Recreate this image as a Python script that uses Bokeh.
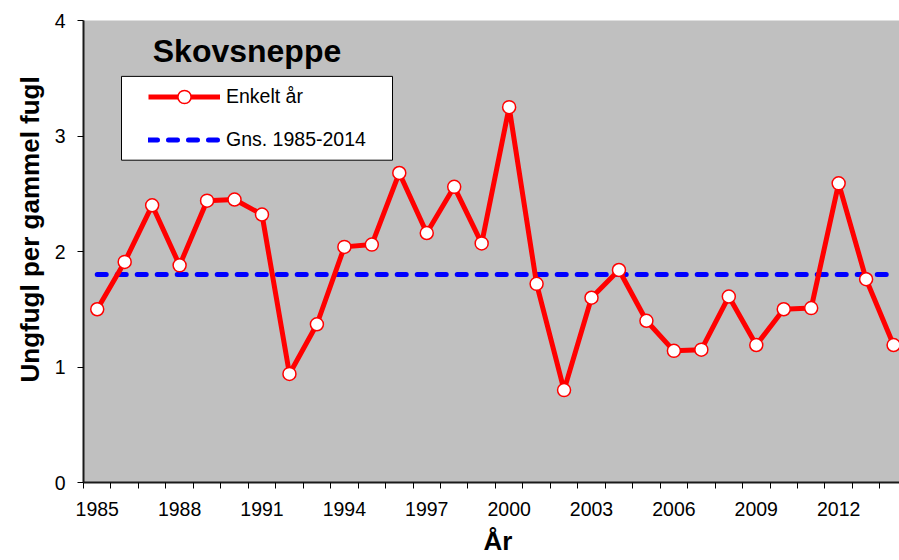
from bokeh.plotting import figure
from bokeh.models import (FixedTicker, Range1d, Label, Legend, LegendItem,
                          BoxAnnotation, ColumnDataSource, Title)
from bokeh.embed import file_html
from bokeh.resources import INLINE

# ---- data ----
years = list(range(1985, 2015))
ungfugl = [1.50, 1.91, 2.40, 1.88, 2.44, 2.45, 2.32, 0.94, 1.37, 2.04,
           2.06, 2.68, 2.16, 2.56, 2.07, 3.25, 1.72, 0.80, 1.60, 1.84,
           1.40, 1.14, 1.15, 1.61, 1.19, 1.50, 1.51, 2.59, 1.76, 1.19]
gns_value = 1.80
x_tick_years = list(range(1985, 2013, 3))
y_ticks = [0, 1, 2, 3, 4]

title_text = "Skovsneppe"
y_title = "Ungfugl per gammel fugl"
x_title = "År"
label_single = "Enkelt år"
label_mean = "Gns. 1985-2014"

# ---- layout ----
FONT = "Liberation Sans"
OFF = 0
W, H = 899, 560
LEFT, TOP, BOTTOM, RIGHT = 83, 20, 77, 0
frame_w = W - LEFT - RIGHT
frame_h = H - TOP - BOTTOM
px_per_year = 27.46
x_start = years[0] - 0.5
x_end = x_start + frame_w / px_per_year
FRAME_L, FRAME_B = OFF + LEFT, OFF + TOP + frame_h  # page coords


def px_x(px):
    return x_start + (px - FRAME_L) / px_per_year


def px_y(py):
    return (FRAME_B - py) / (frame_h / 4.0)


p = figure(width=W, height=H, output_backend="svg", toolbar_location=None,
           x_range=Range1d(x_start, x_end), y_range=Range1d(0, 4),
           min_border_left=LEFT, min_border_right=RIGHT,
           min_border_top=TOP, min_border_bottom=BOTTOM)

p.background_fill_color = "#C0C0C0"
p.border_fill_color = "white"
p.outline_line_color = None
p.xgrid.visible = False
p.ygrid.visible = False

src = ColumnDataSource(dict(year=years, val=ungfugl))

mean_r = p.line([years[0], years[-1]], [gns_value, gns_value],
                line_color="#0000FF", line_width=5, line_dash="9 11",
                line_cap="round")
line_r = p.line("year", "val", source=src, line_color="#FF0000", line_width=5)
pts_r = p.scatter("year", "val", source=src, marker="circle", size=13,
                  fill_color="white", line_color="#FF0000", line_width=1.5)

# ---- axes ----
xa = p.xaxis[0]
xa.ticker = FixedTicker(ticks=x_tick_years,
                        minor_ticks=[y - 0.5 for y in years] + [years[-1] + 0.5])
xa.major_tick_out = 0
xa.major_tick_in = 0
xa.minor_tick_out = 6
xa.minor_tick_in = 0
xa.minor_tick_line_color = "black"
xa.minor_tick_line_width = 1
xa.major_label_standoff = 13
xa.major_label_text_font = FONT
xa.major_label_text_font_size = "19.5px"
xa.major_label_text_color = "black"
xa.axis_line_color = "#1a1a1a"
xa.axis_line_width = 2

ya = p.yaxis[0]
ya.ticker = FixedTicker(ticks=y_ticks, minor_ticks=[])
ya.major_tick_out = 6
ya.major_tick_in = 0
ya.minor_tick_out = 0
ya.minor_tick_in = 0
ya.major_tick_line_color = "black"
ya.major_tick_line_width = 1
ya.major_label_standoff = 12
ya.major_label_text_font = FONT
ya.major_label_text_font_size = "19.5px"
ya.major_label_text_color = "black"
ya.axis_line_color = "#1a1a1a"
ya.axis_line_width = 2

# ---- texts ----
p.add_layout(Label(x=246.5 - FRAME_L, y=FRAME_B - 51.5, x_units="screen",
                   y_units="screen", text=title_text, text_font=FONT,
                   text_font_size="32px", text_font_style="bold",
                   text_align="center", text_baseline="alphabetic",
                   text_color="black"))

p.add_layout(Title(text=y_title, align="left", offset=FRAME_B - 383,
                   standoff=14, text_font=FONT, text_font_size="26px",
                   text_font_style="bold", text_color="black"), "left")
p.add_layout(Title(text=x_title, align="left", offset=483 - FRAME_L,
                   standoff=10, text_font=FONT, text_font_size="26px",
                   text_font_style="bold", text_color="black"), "below")

# ---- legend ----
box = BoxAnnotation(left=px_x(121), right=px_x(392), top=px_y(76),
                    bottom=px_y(160), fill_color="white", fill_alpha=1.0,
                    line_color="black", line_alpha=1.0, line_width=1)
p.add_layout(box)

legend = Legend(items=[LegendItem(label=label_single, renderers=[line_r, pts_r]),
                       LegendItem(label=label_mean, renderers=[mean_r])],
                location=(148 - FRAME_L, FRAME_B - 156.5),
                padding=0, spacing=10, margin=0,
                glyph_width=72, glyph_height=33, label_height=20,
                label_standoff=6, label_text_font=FONT,
                label_text_font_size="19.5px", label_text_color="black",
                border_line_color=None, background_fill_alpha=0)
p.add_layout(legend, "center")

open("out.html", "w").write(file_html(p, INLINE))
